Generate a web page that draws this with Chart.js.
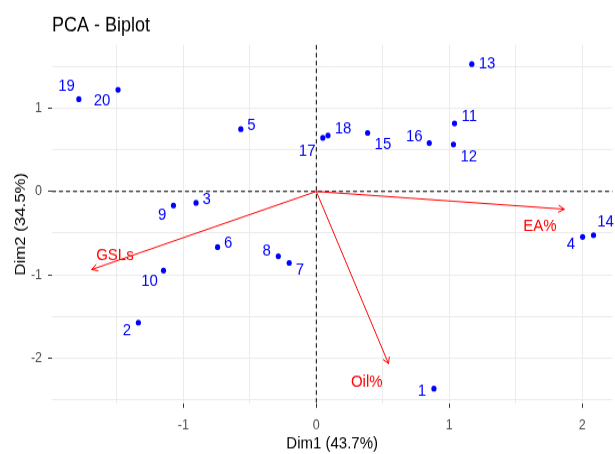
<!DOCTYPE html>
<html>
<head>
<meta charset="utf-8">
<title>PCA - Biplot</title>
<script src="https://cdn.jsdelivr.net/npm/chart.js@4.4.1/dist/chart.umd.min.js"></script>
<style>
  html, body { margin: 0; padding: 0; background: #ffffff; }
  body { width: 615px; height: 454px; overflow: visible; }
  /* the plot is drawn on a shorter canvas and stretched vertically */
  #wrap { width: 615px; height: 405px; transform: scale(1, 1.121); transform-origin: 0 0; }
</style>
</head>
<body>
<div id="wrap"><canvas id="c" width="615" height="405"></canvas></div>
<script>
// Individuals (PCA scores)
const obsLabels = ['1','2','3','4','5','6','7','8','9','10','11','12','13','14','15','16','17','18','19','20'];
const dim1 = [0.885, -1.339, -0.905, 2.004, -0.568, -0.743, -0.204, -0.286, -1.075, -1.150,
              1.040, 1.032, 1.170, 2.086, 0.386, 0.850, 0.049, 0.088, -1.787, -1.492];
const dim2 = [-2.368, -1.575, -0.137, -0.546, 0.749, -0.669, -0.858, -0.778, -0.168, -0.950,
              0.817, 0.565, 1.530, -0.525, 0.704, 0.581, 0.644, 0.673, 1.109, 1.221];

// Variables (loadings drawn as arrows from the origin)
const varNames = ['EA%', 'GSLs', 'Oil%'];
const varDim1 = [1.867, -1.691, 0.543];
const varDim2 = [-0.213, -0.938, -2.067];

// Axis tick labels
const xTickLabels = ['-1', '0', '1', '2'];
const yTickLabels = ['-2', '-1', '0', '1'];

// ---- presentation ----
const STRETCH = 454 / 405;
const FONT = '"Liberation Sans", Arial, Helvetica, sans-serif';
const POINT_COLOR = '#0000ff';
const VAR_COLOR = '#ff0000';

// text placement of each label relative to its mark, in screen pixels
const obsLabelNudge = [
  [-12, 2], [-11.5, 7.5], [10.6, -3.4], [-11.7, 7.6], [10.6, -4],
  [10.7, -3.7], [10.7, 7.3], [-11.6, -5], [-11.3, 9.7], [-14, 10.7],
  [14.7, -6.6], [15.4, 12.4], [15.3, 0], [12, -13], [15.3, 11.6],
  [-15, -6.3], [-15.7, 13], [15, -7], [-12.3, -13], [-16, 11]
];
const varLabelNudge = [[-24.4, 17], [23.3, -14.3], [-21.7, 18.4]];

const isMajor = v => Math.abs(v - Math.round(v)) < 1e-6;

const biplotDecor = {
  id: 'biplotDecor',
  beforeDatasetsDraw(chart) {
    const { ctx, chartArea: a, scales: { x, y } } = chart;
    const x0 = x.getPixelForValue(0), y0 = y.getPixelForValue(0);
    ctx.save();
    ctx.strokeStyle = '#000000';
    ctx.lineWidth = 1;
    ctx.setLineDash([4, 3]);
    ctx.beginPath();
    ctx.moveTo(a.left, y0); ctx.lineTo(a.right, y0);
    ctx.stroke();
    ctx.beginPath();
    ctx.moveTo(x0, a.top); ctx.lineTo(x0, a.bottom);
    ctx.stroke();
    ctx.restore();
  },
  afterDatasetsDraw(chart) {
    const { ctx, scales: { x, y } } = chart;
    const x0 = x.getPixelForValue(0), y0 = y.getPixelForValue(0);
    ctx.save();
    // arrow heads
    ctx.strokeStyle = VAR_COLOR;
    ctx.lineWidth = 1;
    const headLen = 7, headAng = Math.PI / 6;
    varNames.forEach((n, i) => {
      const tx = x.getPixelForValue(varDim1[i]);
      const ty = y.getPixelForValue(varDim2[i]);
      const ang = Math.atan2((ty - y0) * STRETCH, tx - x0);
      ctx.beginPath();
      [ang + Math.PI - headAng, ang + Math.PI + headAng].forEach((w, k) => {
        const wx = tx + headLen * Math.cos(w);
        const wy = ty + headLen * Math.sin(w) / STRETCH;
        if (k === 0) { ctx.moveTo(wx, wy); ctx.lineTo(tx, ty); }
        else ctx.lineTo(wx, wy);
      });
      ctx.stroke();
    });
    // labels
    ctx.font = '15px ' + FONT;
    ctx.textAlign = 'center';
    ctx.textBaseline = 'middle';
    ctx.fillStyle = POINT_COLOR;
    obsLabels.forEach((lab, i) => {
      const px = x.getPixelForValue(dim1[i]);
      const py = y.getPixelForValue(dim2[i]);
      ctx.fillText(lab, px + obsLabelNudge[i][0], py + obsLabelNudge[i][1] / STRETCH);
    });
    ctx.fillStyle = VAR_COLOR;
    varNames.forEach((n, i) => {
      const px = x.getPixelForValue(varDim1[i]);
      const py = y.getPixelForValue(varDim2[i]);
      ctx.fillText(n, px + varLabelNudge[i][0], py + varLabelNudge[i][1] / STRETCH);
    });
    ctx.restore();
  }
};

const gridOpts = {
  color: '#ebebeb',
  lineWidth: 1,
  drawTicks: true,
  tickLength: 4,
  tickWidth: 1,
  tickColor: c => (c.tick && isMajor(c.tick.value)) ? '#333333' : 'rgba(0,0,0,0)'
};

const tickText = list => v => {
  const s = String(Math.round(v));
  return (isMajor(v) && list.includes(s)) ? s : '';
};

new Chart(document.getElementById('c'), {
  type: 'scatter',
  data: {
    datasets: [
      ...varNames.map((n, i) => ({
        type: 'line',
        label: n,
        data: [{ x: 0, y: 0 }, { x: varDim1[i], y: varDim2[i] }],
        borderColor: VAR_COLOR,
        borderWidth: 1,
        pointRadius: 0,
        fill: false,
        order: 0
      })),
      {
        label: 'Individuals',
        data: dim1.map((v, i) => ({ x: v, y: dim2[i] })),
        backgroundColor: POINT_COLOR,
        borderWidth: 0,
        pointRadius: 2.6,
        pointHoverRadius: 2.6,
        order: 1
      }
    ]
  },
  options: {
    responsive: false,
    animation: false,
    events: [],
    layout: { padding: 0 },
    plugins: {
      legend: { display: false },
      tooltip: { enabled: false },
      title: {
        display: true,
        text: 'PCA - Biplot',
        align: 'start',
        fullSize: false,
        color: '#000000',
        font: { family: FONT, size: 18, weight: 'normal', lineHeight: 1.2 },
        padding: { top: 12.2, bottom: 6.4 }
      }
    },
    scales: {
      x: {
        type: 'linear',
        min: -1.989,
        max: 2.228,
        afterFit(s) { s.height = 45.2; },
        border: { display: false },
        grid: gridOpts,
        ticks: {
          stepSize: 0.5,
          includeBounds: false,
          autoSkip: false,
          maxRotation: 0,
          minRotation: 0,
          padding: 8.5,
          color: '#4d4d4d',
          font: { family: FONT, size: 12.5 },
          callback: tickText(xTickLabels)
        },
        title: {
          display: true,
          text: 'Dim1 (43.7%)',
          color: '#000000',
          font: { family: FONT, size: 15, lineHeight: 1.2 },
          padding: { top: 0, bottom: 0 }
        }
      },
      y: {
        type: 'linear',
        min: -2.545,
        max: 1.758,
        afterFit(s) { s.width = 52; },
        border: { display: false },
        grid: gridOpts,
        ticks: {
          stepSize: 0.5,
          includeBounds: false,
          autoSkip: false,
          padding: 6,
          color: '#4d4d4d',
          font: { family: FONT, size: 12.5 },
          callback: tickText(yTickLabels)
        },
        title: {
          display: true,
          text: 'Dim2 (34.5%)',
          color: '#000000',
          font: { family: FONT, size: 15, lineHeight: 1.2 },
          padding: { top: 11.5, bottom: 0 }
        }
      }
    }
  },
  plugins: [biplotDecor]
});
</script>
</body>
</html>
